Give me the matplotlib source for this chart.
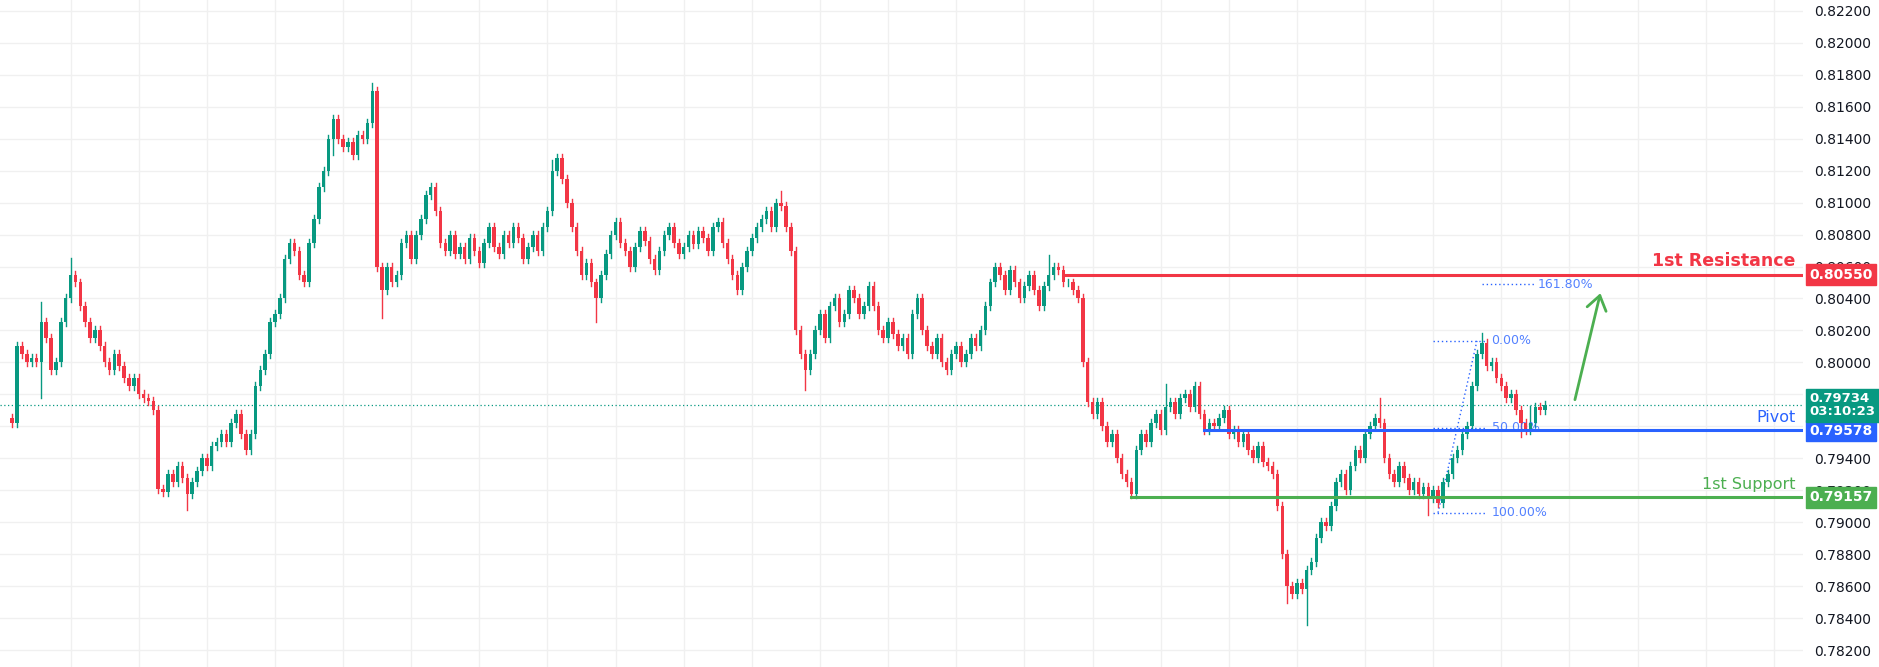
import matplotlib
matplotlib.use("Agg")
import matplotlib.pyplot as plt
from matplotlib.patches import Rectangle, FancyArrowPatch
import numpy as np

first_open = 0.7965
closes = [
    .7962,.8010,.8005,.8000,.8003,.8000,.8025,.8015,.7995,.8000,.8025,.8040,.8055,
    .8050,.8035,.8025,.8015,.8020,.8010,.8000,.7995,.8005,.7998,.7990,.7985,.7990,.7980,.7978,.7976,.7970,.7921,
    .7919,.7930,.7925,.7935,.7928,.7918,.7925,.7932,.7940,.7935,.7948,.7950,.7955,.7950,.7962,.7968,.7955,
    .7945,.7955,.7985,.7995,.8005,.8025,.8030,.8040,.8065,.8075,.8070,.8055,.8050,.8075,.8090,.8110,.8120,.8140,.8152,
    .8140,.8135,.8138,.8130,.8142,.8140,.8150,.8170,
    .8060,
    .8045,.8060,.8050,.8055,.8075,.8080,.8065,.8080,.8090,.8105,.8110,
    .8095,.8075,.8070,.8080,.8068,.8072,.8065,.8078,.8070,.8062,.8075,.8085,.8072,.8068,.8080,.8075,.8085,.8078,.8065,.8072,.8080,.8070,.8085,.8095,
    .8120,.8128,.8115,.8100,.8085,.8070,.8055,.8062,.8050,.8040,
    .8055,.8068,.8080,.8088,.8075,.8070,.8060,.8072,.8082,.8076,.8065,.8058,.8070,.8080,.8085,.8075,.8068,.8072,.8080,.8074,.8082,.8078,.8070,.8085,.8088,.8075,.8065,.8055,.8045,.8060,.8070,.8078,.8085,.8090,.8095,
    .8085,.8100,.8098,.8085,.8070,
    .8020,.8005,.7995,.8005,
    .8020,.8030,.8015,.8035,.8040,.8025,.8030,.8045,.8040,.8030,.8035,.8048,.8035,.8020,.8015,.8025,.8018,.8010,.8015,.8005,.8030,.8040,.8020,.8010,.8005,.8015,.8000,.7995,.8005,.8010,.8000,.8005,.8015,.8010,.8020,.8035,
    .8050,.8060,.8055,.8045,.8058,.8050,.8040,.8048,.8055,.8045,.8035,.8048,.8055,.8060,.8058,.8050,
    .8050,.8045,.8040,.8000,.7975,.7968,.7975,.7960,.7950,.7955,.7940,.7930,.7925,.7918,
    .7945,.7955,.7950,.7962,.7968,.7958,.7972,.7975,.7968,.7978,.7980,.7972,.7985,.7968,.7958,
    .7962,.7960,.7965,.7970,.7955,.7958,.7950,.7955,.7945,.7940,.7948,.7938,.7935,.7930,.7910,
    .7880,.7860,.7855,.7862,.7858,.7870,
    .7875,.7890,.7900,.7898,.7910,.7925,.7930,.7920,.7935,.7945,.7940,.7955,.7960,.7965,
    .7962,.7940,.7930,.7925,.7935,.7928,.7920,.7925,.7918,.7922,.7915,.7920,.7912,.7925,.7930,.7940,.7945,
    .7955,.7960,.7985,.8005,.8012,.7998,.8000,
    .7990,.7985,.7978,.7980,.7970,.7962,.7958,.7962,
    .7972,.7970,.79734,
]
default_wick = 0.00025
extra_high = {6: 0.0010, 12: 0.0008, 74: 0.0002, 111: 0.0004, 158: 0.0005, 213: 0.0010, 237: 0.0012, 281: 0.0010, 302: 0.0004, 312: 0.0008}
extra_low = {6: 0.0020, 36: 0.0008, 66: 0.0008, 76: 0.0015, 120: 0.0012, 163: 0.0010, 262: 0.0008, 266: 0.0020, 291: 0.0008, 310: 0.0006}

resistance, pivot, support, last_price = 0.80550, 0.79578, 0.79157, 0.79734
yticks = [round(0.782 + 0.002 * k, 3) for k in range(21)]

GREEN, RED = "#089981", "#F23645"
fig = plt.figure(figsize=(18.79, 6.67), dpi=100)
ax = fig.add_axes([0.0, 0.0, 1803 / 1879, 1.0])
n = len(closes)
opens = [first_open] + closes[:-1]
for i, (o, c) in enumerate(zip(opens, closes)):
    col = GREEN if c >= o else RED
    hi = max(o, c) + default_wick + extra_high.get(i, 0)
    lo = min(o, c) - default_wick - extra_low.get(i, 0)
    ax.plot([i, i], [lo, hi], color=col, lw=1.0, zorder=3)
    h = max(abs(c - o), 0.00004)
    ax.add_patch(Rectangle((i - 0.36, min(o, c)), 0.72, h, color=col, zorder=4, lw=0))

xmax = 368
ax.set_xlim(-2.5, xmax)
ax.set_ylim(0.78095, 0.82267)
for k in range(12, 368, 14):
    ax.axvline(k, color="#f0f0f0", lw=1, zorder=0)
for t in yticks:
    ax.axhline(t, color="#f0f0f0", lw=1, zorder=0)
ax.set_xticks([])
ax.yaxis.tick_right()
ax.set_yticks(yticks)
ax.set_yticklabels([f"{t:.5f}" for t in yticks], fontsize=10, color="#131722")
ax.tick_params(axis="y", length=0, pad=8)
for s in ax.spines.values():
    s.set_visible(False)

ax.axhline(last_price, color=GREEN, lw=0.9, ls=(0, (1, 2)), zorder=2)
ax.plot([216, xmax], [resistance] * 2, color=RED, lw=2.2, zorder=5)
ax.plot([245, xmax], [pivot] * 2, color="#2962FF", lw=2.2, zorder=5)
ax.plot([230, xmax], [support] * 2, color="#4CAF50", lw=2.2, zorder=5)
ax.text(xmax - 1.5, resistance + 0.0003, "1st Resistance", color=RED, fontsize=12.5, fontweight="bold", ha="right", va="bottom")
ax.text(xmax - 1.5, pivot + 0.0003, "Pivot", color="#2962FF", fontsize=11.5, ha="right", va="bottom")
ax.text(xmax - 1.5, support + 0.0003, "1st Support", color="#4CAF50", fontsize=11.5, ha="right", va="bottom")

# fib
fc = "#2962FF"
ax.plot([292, 303], [0.80135] * 2, color=fc, lw=1, ls=(0, (1, 2)))
ax.plot([292, 303], [0.7959] * 2, color=fc, lw=1, ls=(0, (1, 2)))
ax.plot([292, 303], [0.7906] * 2, color=fc, lw=1, ls=(0, (1, 2)))
ax.plot([302, 313], [0.8049] * 2, color=fc, lw=1, ls=(0, (1, 2)))
ax.plot([293, 301], [0.7906, 0.80135], color=fc, lw=1, ls=(0, (1, 2)))
ax.text(304, 0.80135, "0.00%", color=fc, fontsize=9, va="center", alpha=0.8)
ax.text(304, 0.7959, "50.00%", color=fc, fontsize=9, va="center", alpha=0.8)
ax.text(304, 0.7906, "100.00%", color=fc, fontsize=9, va="center", alpha=0.8)
ax.text(313.5, 0.8049, "161.80%", color=fc, fontsize=9, va="center", alpha=0.8)

ax.add_patch(FancyArrowPatch((321, 0.7975), (326.5, 0.8045), arrowstyle="->,head_length=10,head_width=7",
                             color="#4CAF50", lw=2, zorder=6))

def tag(y, txt, col, fs=10):
    ax.text(1.0 + 0.0035, y, txt, transform=ax.get_yaxis_transform(), color="white", fontsize=fs,
            fontweight="bold", va="center", ha="left", linespacing=1.0,
            bbox=dict(boxstyle="square,pad=0.25", fc=col, ec=col), zorder=10, clip_on=False)

tag(resistance, "0.80550", RED)
tag(support, "0.79157", "#4CAF50")
tag(pivot - 0.00005, "0.79578", "#2962FF")
tag(last_price - 0.00003, "0.79734\n03:10:23", GREEN, fs=9.5)

fig.savefig("out.png", dpi=100, facecolor="white")
